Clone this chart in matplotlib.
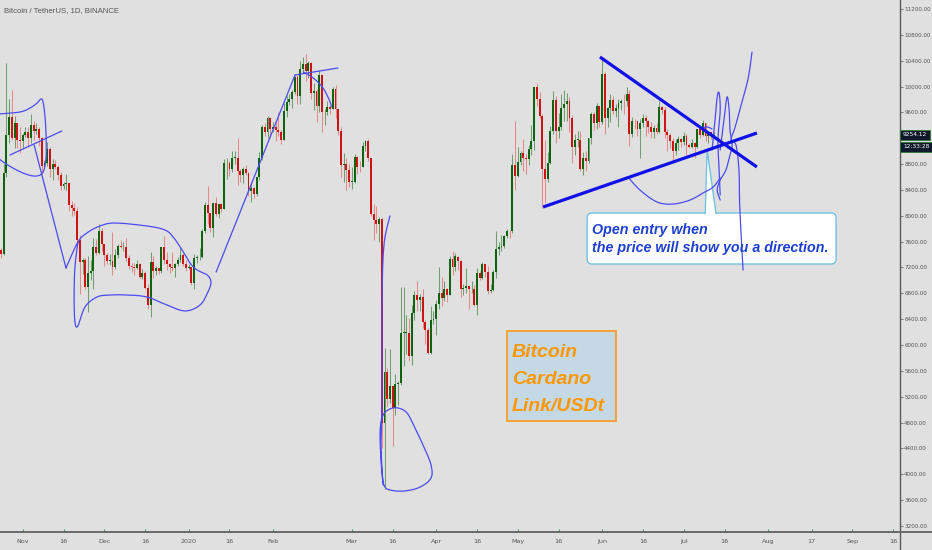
import numpy as np
import pandas as pd
import matplotlib
matplotlib.use("Agg")
import matplotlib.pyplot as plt
from matplotlib.patches import FancyBboxPatch, Rectangle, Polygon
from matplotlib.lines import Line2D
import matplotlib.transforms as mtransforms

# daily BTC/USDT candles, 2019-10-24 .. 2020-07-12
first_open = 7470
closes = [
    # Oct 24-31
    7410, 8655, 9250, 9530, 9200, 9430, 9180, 9150,
    # Nov
    9250, 9300, 9200, 9400, 9310, 9350, 9200, 8770, 8810, 9040,
    8720, 8800, 8760, 8630, 8460, 8490, 8500, 8170, 8120, 8080,
    7620, 7280, 7320, 6900, 7120, 7150, 7520, 7430, 7760, 7570,
    # Dec
    7400, 7300, 7300, 7200, 7400, 7540, 7510, 7520, 7340, 7220,
    7200, 7190, 7250, 7060, 7110, 6880, 6620, 7290, 7150, 7190,
    7140, 7510, 7320, 7250, 7200, 7190, 7250, 7310, 7390, 7250, 7195,
    # Jan
    7200, 6965, 7345, 7355, 7360, 7760, 8160, 8045, 7815, 8200,
    8020, 8185, 8110, 8810, 8820, 8720, 8900, 8900, 8700, 8630,
    8725, 8660, 8385, 8430, 8335, 8595, 8900, 9375, 9300, 9510, 9350,
    # Feb
    9380, 9330, 9290, 9180, 9620, 9760, 9800, 9910, 10150, 9850,
    10270, 10350, 10240, 10360, 9900, 9930, 9700, 10180, 9600, 9600,
    9690, 9660, 9960, 9650, 9310, 8780, 8800, 8710, 8520,
    # Mar
    8530, 8910, 8760, 8750, 9080, 9150, 8890, 8030, 7930, 7880,
    7950, 4800, 5580, 5170, 5360, 5030, 5390, 5410, 6190, 6190,
    6190, 5830, 6490, 6770, 6700, 6740, 6360, 6240, 5880, 6390, 6410,
    # Apr
    6640, 6800, 6730, 6860, 6780, 7330, 7200, 7370, 7300, 6870,
    6890, 6910, 6860, 6870, 6620, 7110, 7030, 7250, 7130, 6840,
    6850, 7130, 7480, 7510, 7540, 7680, 7770, 7760, 8780, 8620,
    # May
    8830, 8970, 8890, 8880, 9030, 9150, 9990, 9810, 9540, 8730,
    8570, 8810, 9310, 9790, 9310, 9380, 9670, 9730, 9780, 9510,
    9060, 9170, 9180, 8720, 8900, 8840, 9200, 9575, 9430, 9700, 9450,
    # Jun
    10200, 9520, 9670, 9790, 9620, 9670, 9750, 9780, 9770, 9880,
    9270, 9470, 9460, 9340, 9430, 9520, 9460, 9380, 9300, 9360,
    9290, 9690, 9630, 9290, 9250, 9160, 9010, 9120, 9190, 9140,
    # Jul 1-12
    9230, 9090, 9060, 9130, 9070, 9340, 9250, 9430, 9230, 9290, 9240, 9254.12,
]
highs = [
    7500, 8800, 10370, 9800, 9940, 9550, 9430, 9380,
    9280, 9375, 9370, 9580, 9470, 9440, 9375, 9220, 8870, 9140,
    9060, 8880, 8860, 8790, 8680, 8530, 8640, 8500, 8230, 8200,
    8140, 7700, 7340, 7340, 7370, 7320, 7650, 7640, 7870, 7810,
    7570, 7420, 7410, 7750, 7490, 7560, 7620, 7590, 7650, 7400,
    7270, 7270, 7310, 7270, 7180, 7140, 6940, 7440, 7370, 7220,
    7190, 7520, 7690, 7440, 7270, 7440, 7270, 7360, 7520, 7420, 7320,
    7255, 7210, 7405, 7400, 7500, 7800, 8210, 8460, 8050, 8200,
    8285, 8190, 8200, 8880, 8900, 8850, 9000, 9000, 9200, 8725,
    8750, 8790, 8670, 8520, 8440, 8600, 8980, 9400, 9430, 9550, 9530,
    9450, 9470, 9600, 9330, 9750, 9860, 9880, 9950, 10160, 10180,
    10390, 10450, 10500, 10390, 10380, 10050, 9960, 10250, 10200, 9660,
    9780, 9700, 9990, 10030, 9660, 9370, 8970, 8900, 8800,
    8750, 8950, 8920, 8840, 9140, 9170, 9190, 8900, 8180, 8150,
    7980, 7960, 5950, 5650, 5940, 5360, 5550, 5440, 6900, 6900,
    6460, 6420, 6620, 6840, 6990, 6790, 6870, 6380, 6260, 6600, 6530,
    6700, 7200, 7050, 6990, 6880, 7370, 7460, 7420, 7380, 7310,
    6950, 7190, 6910, 6990, 6930, 7190, 7150, 7290, 7260, 7220,
    6940, 7160, 7770, 7600, 7700, 7700, 7800, 7780, 8950, 9460,
    9060, 9000, 9190, 8960, 9100, 9400, 10000, 10050, 9920, 9580,
    9170, 8980, 9390, 9930, 9850, 9590, 9880, 9950, 9900, 9840,
    9560, 9270, 9310, 9310, 8980, 9010, 9200, 9600, 9610, 9740, 9700,
    10430, 10230, 9680, 9880, 9850, 9735, 9800, 9800, 9880, 9990,
    9940, 9530, 9490, 9470, 9500, 9580, 9560, 9480, 9450, 9400,
    9440, 9780, 9700, 9680, 9340, 9280, 9200, 9190, 9230, 9200,
    9300, 9270, 9130, 9190, 9140, 9350, 9360, 9480, 9440, 9300, 9300, 9300,
]
lows = [
    7350, 7390, 8600, 9120, 9180, 9050, 9050, 8970,
    9050, 9215, 9070, 9120, 9180, 9270, 9080, 8670, 8740, 8770,
    8600, 8560, 8720, 8560, 8400, 8410, 8400, 8080, 8000, 8010,
    7500, 6790, 7100, 6860, 6510, 7000, 6860, 7400, 7410, 7450,
    7230, 7250, 7240, 7090, 7170, 7350, 7500, 7450, 7300, 7170,
    7130, 7080, 7180, 7030, 7020, 6860, 6560, 6430, 7040, 7080,
    7100, 7120, 7260, 7160, 7120, 7150, 7060, 7220, 7290, 7220, 7150,
    7175, 6925, 6870, 7270, 7320, 7350, 7730, 7870, 7750, 7675,
    8000, 7970, 8055, 8110, 8570, 8610, 8670, 8800, 8480, 8520,
    8500, 8630, 8300, 8220, 8280, 8300, 8560, 8870, 9230, 9210, 9220,
    9300, 9150, 9230, 9110, 9170, 9530, 9720, 9670, 9890, 9730,
    9730, 10230, 10080, 10130, 9800, 9630, 9450, 9600, 9300, 9400,
    9560, 9580, 9650, 9510, 9250, 8600, 8530, 8400, 8450,
    8410, 8500, 8650, 8680, 8750, 9010, 8850, 8000, 7630, 7730,
    7590, 4410, 3780, 5060, 5100, 4440, 4920, 5070, 5380, 5670,
    5860, 5750, 5690, 6380, 6530, 6530, 6260, 6020, 5860, 5860, 6330,
    6150, 6560, 6600, 6680, 6670, 6770, 7080, 7150, 7160, 6750,
    6780, 6810, 6550, 6800, 6600, 6470, 7000, 7020, 7050, 6790,
    6800, 6830, 7030, 7400, 7450, 7500, 7650, 7660, 7740, 8400,
    8600, 8780, 8700, 8640, 8790, 8940, 9020, 9700, 9520, 8120,
    8200, 8530, 8800, 9260, 9130, 9210, 9330, 9470, 9460, 9300,
    8820, 8940, 9070, 8700, 8630, 8700, 8810, 9110, 9330, 9350, 9380,
    9420, 9270, 9380, 9450, 9580, 9530, 9380, 9640, 9570, 9700,
    9080, 9220, 9350, 9240, 8900, 9380, 9240, 9280, 9200, 9200,
    9270, 9280, 9570, 9200, 9000, 9050, 8830, 8940, 9020, 9070,
    9100, 8940, 9050, 9050, 8900, 9050, 9200, 9230, 9150, 9120, 9190, 9230,
]

dates = pd.date_range("2019-10-24", "2020-07-12", freq="D")
assert len(dates) == len(closes) == len(highs) == len(lows)

base = pd.Timestamp("2019-11-01")
days = np.array((dates - base).days, dtype=float)
closes = np.array(closes, dtype=float)
opens = np.concatenate([[first_open], closes[:-1]])
highs = np.maximum(np.array(highs, dtype=float), np.maximum(opens, closes))
lows = np.minimum(np.array(lows, dtype=float), np.minimum(opens, closes))

tick_dates = ["2019-11-01", "2019-11-16", "2019-12-01", "2019-12-16", "2020-01-01",
              "2020-01-16", "2020-02-01", "2020-03-01", "2020-03-16", "2020-04-01",
              "2020-04-16", "2020-05-01", "2020-05-16", "2020-06-01", "2020-06-16",
              "2020-07-01", "2020-07-16", "2020-08-01", "2020-08-17", "2020-09-01",
              "2020-09-16"]
tick_labels = ["Nov", "16", "Dec", "16", "2020", "16", "Feb", "Mar", "16", "Apr", "16",
               "May", "16", "Jun", "16", "Jul", "16", "Aug", "17", "Sep", "16"]
price_ticks = np.arange(3200, 11201, 400)

# hand drawn marks (day since Nov 1 2019, price)
loop_oct = [(-9, 9575), (-1.0, 9606), (2.7, 9668), (5.3, 9745), (6.7, 9807), (7.5, 9760),
            (8.2, 9528), (8.6, 9219), (8.6, 8910), (7.8, 8708), (6.4, 8631), (3.8, 8616),
            (0.1, 8662), (-3.6, 8739), (-7.2, 8832), (-9, 8894)]
line_oct = [(-4.7, 8940), (14.4, 9312)]
line_nov = [(4.2, 9095), (15.9, 7192)]
loop_dec = [(15.9, 7192), (20.3, 7594), (23.6, 7734), (28.4, 7842), (33.9, 7888), (45.7, 7842),
            (52.3, 7780), (55.3, 7672), (58.6, 7471), (61.5, 7269), (64.1, 7161), (67.8, 7084),
            (69.2, 6975), (68.1, 6821), (65.2, 6620), (59.7, 6527), (53.0, 6620), (45.7, 6743),
            (38.3, 6774), (32.1, 6774), (27.3, 6743), (22.9, 6589), (20.3, 6295), (19.2, 6356),
            (18.9, 6743), (19.2, 7208), (20.3, 7594)]
line_jan = [(71.1, 7130), (100.1, 10178)]
line_feb_top = [(100.1, 10178), (115.9, 10287)]
arc_feb = [(103.1, 10225), (106.8, 10132), (110.4, 9977), (113.0, 9761), (113.4, 9683)]
loop_mar = [(135.0, 7997), (132.8, 7548), (132.1, 6697), (132.1, 5150), (131.7, 4531),
            (132.1, 4066), (132.8, 3834), (135.0, 3757), (140.5, 3742), (146.1, 3803),
            (150.1, 3943), (150.1, 4144), (147.5, 4422), (144.2, 4716), (141.3, 4948),
            (138.0, 5026), (135.0, 5010), (132.5, 4918), (131.4, 4685), (131.7, 4221),
            (132.5, 3834)]
tri_upper = [(212.2, 10457), (269.9, 8755)]
tri_lower = [(191.3, 8136), (269.9, 9281)]
arc_jun = [(222.5, 8600), (226.9, 8399), (233.2, 8213), (239.1, 8182), (245.3, 8244),
           (250.1, 8353), (253.8, 8445), (256.4, 8584)]
scribble_1 = [(253.4, 9018), (254.5, 9482), (255.3, 9838), (256.0, 9900), (256.4, 9637),
              (255.6, 9173), (256.0, 8708), (256.4, 8322)]
scribble_2 = [(256.4, 9018), (257.8, 9482), (258.9, 9838), (259.7, 9637), (260.0, 9327),
              (260.8, 9095), (260.0, 8940), (258.5, 8708), (256.4, 8554), (255.3, 8399),
              (256.4, 8244)]
scribble_3 = [(268.1, 10534), (266.7, 10132), (264.1, 9714), (261.9, 9374), (260.4, 9173),
              (262.2, 9095), (263.3, 8708), (263.6, 8136), (264.8, 7161)]
tick_arc = [(249.0, 9358), (251.6, 9374), (253.4, 9343)]


def smooth(pts, n=14):
    p = np.asarray(pts, float)
    p = np.vstack([p[0], p, p[-1]])
    out = []
    t = np.linspace(0, 1, n, endpoint=False)[:, None]
    for i in range(1, len(p) - 2):
        p0, p1, p2, p3 = p[i - 1], p[i], p[i + 1], p[i + 2]
        out.append(0.5 * (2 * p1 + (-p0 + p2) * t + (2 * p0 - 5 * p1 + 4 * p2 - p3) * t ** 2
                          + (-p0 + 3 * p1 - 3 * p2 + p3) * t ** 3))
    out.append(p[-2][None])
    return np.vstack(out)


bg = "#e0e0e0"
fig = plt.figure(figsize=(9.32, 5.5), dpi=100, facecolor=bg)
ax = fig.add_axes([0, 18 / 550, 900 / 932, 532 / 550], facecolor=bg)

# candles
up = closes >= opens
body_col = np.where(up, "#0e640e", "#cc1414")
wick_col = np.where(up, "#6f9f6f", "#e48a8a")
ax.vlines(days, lows, highs, colors=wick_col, lw=0.75, zorder=2)
ax.bar(days, np.maximum(np.abs(closes - opens), 12), bottom=np.minimum(opens, closes),
       width=0.7, color=body_col, linewidth=0, zorder=3)

ax.set_xlim(-8.35, 322.5)
ax.set_ylim(3107, 11339)

# axes styling
for s in ["top", "left"]:
    ax.spines[s].set_visible(False)
ax.spines["right"].set_color("#5a5a5a")
ax.spines["right"].set_linewidth(1.0)
ax.spines["bottom"].set_color("#6a6a6a")
ax.spines["bottom"].set_linewidth(1.4)
ax.yaxis.tick_right()
ax.set_yticks(price_ticks)
ax.set_yticklabels([f"{v:.2f}" for v in price_ticks])
ax.tick_params(axis="y", direction="out", length=2.0, width=0.6, color="#666666",
               labelsize=4.1, labelcolor="#555555", pad=1.0)
tick_pos = [(pd.Timestamp(d) - base).days for d in tick_dates]
ax.set_xticks(tick_pos)
ax.set_xticklabels(tick_labels)
ax.tick_params(axis="x", direction="in", length=2, width=0.8, color="#4f8f4f",
               labelsize=4.6, labelcolor="#555555", pad=5)

fig.add_artist(Line2D([900 / 932, 900 / 932], [0, 18 / 550], color="#5a5a5a", lw=1.0))
fig.add_artist(Line2D([900 / 932, 1], [18 / 550, 18 / 550], color="#6a6a6a", lw=1.4))

thin = dict(color="#4b4bf5", lw=0.9, zorder=7, solid_capstyle="round")
for pts in [loop_oct, loop_dec, arc_feb, loop_mar, arc_jun, scribble_1, scribble_2,
            scribble_3, tick_arc]:
    s = smooth(pts)
    ax.plot(s[:, 0], s[:, 1], **thin)
for pts in [line_oct, line_nov, line_jan, line_feb_top]:
    p = np.array(pts)
    ax.plot(p[:, 0], p[:, 1], **thin)
for pts in [tri_upper, tri_lower]:
    p = np.array(pts)
    ax.plot(p[:, 0], p[:, 1], color="#1010e8", lw=2.3, zorder=8, solid_capstyle="butt")

# callout
edge = "#72c2e2"
box = FancyBboxPatch((207.5, 7254), 91.5, 789, boxstyle="round,pad=0,rounding_size=1.8",
                     mutation_aspect=42.1, fc="white", ec=edge, lw=1.0, zorder=5)
ax.add_patch(box)
tail = Polygon([(250.9, 8025), (251.6, 9018), (254.9, 8025)], closed=False,
               fc="white", ec=edge, lw=1.0, zorder=6)
ax.add_patch(tail)
txt = dict(fontsize=10.3, fontweight="bold", style="italic", color="#1d3fd2",
           family=["Liberation Sans", "DejaVu Sans"], zorder=9)
ax.text(209.3, 7718, "Open entry when", va="baseline", **txt)
ax.text(209.3, 7440, "the price will show you a direction.", va="baseline", **txt)

# orange label
ax.add_patch(Rectangle((178.1, 4825), 40.0, 1392, fc="#c5d8e6", ec="#f6a236", lw=1.4, zorder=5))
otxt = dict(fontsize=14, fontweight="bold", style="italic", color="#ff9800",
            family=["Liberation Sans", "DejaVu Sans"], va="baseline", zorder=6)
ax.text(179.9, 5815, "Bitcoin", **otxt)
ax.text(179.9, 5397, "Cardano", **otxt)
ax.text(179.9, 4979, "Link/USDt", **otxt)

# title
fig.text(4 / 932, 1 - 11 / 550, "Bitcoin / TetherUS, 1D, BINANCE", fontsize=5.6,
         color="#555555", va="center", family=["Liberation Sans", "DejaVu Sans"])

# last price tags
blend = mtransforms.blended_transform_factory(ax.transAxes, ax.transData)
tag = dict(xycoords=blend, textcoords="offset points", fontsize=4.2, color="white",
           ha="left", va="center", annotation_clip=False,
           bbox=dict(boxstyle="square,pad=0.45", fc="#101a2c", ec="#2f7d32", lw=0.6))
ax.annotate(f"{closes[-1]:.2f}", xy=(1.0, closes[-1]), xytext=(2.2, 0), **tag)
ax.annotate("12:33:28", xy=(1.0, closes[-1]), xytext=(2.2, -8.6), **tag)

fig.savefig("out.png", dpi=100, facecolor=bg)
